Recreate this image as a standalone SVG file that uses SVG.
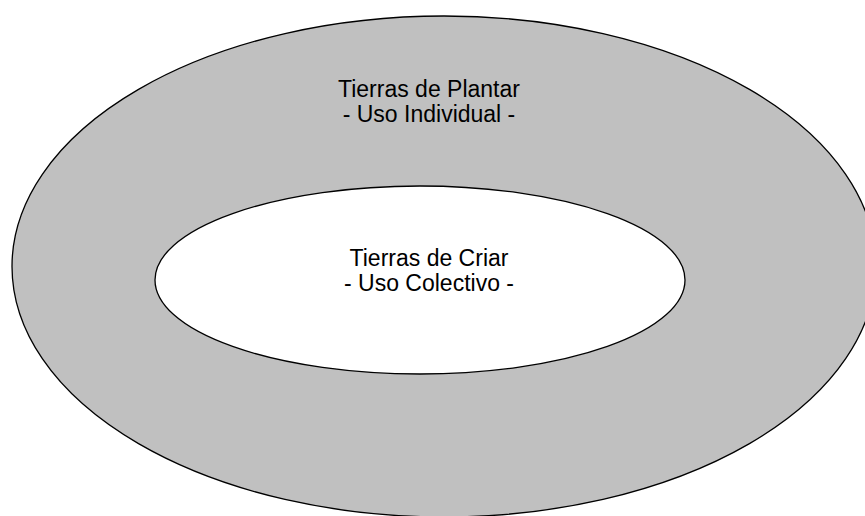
<svg xmlns="http://www.w3.org/2000/svg" width="865" height="516" viewBox="0 0 865 516">
<style>
.shape{stroke:#000;stroke-width:1.3}
.lbl{font-family:"Liberation Sans",Arial,sans-serif;font-size:23px;fill:#000;text-anchor:middle}
</style>
<rect width="865" height="516" fill="#fff"/>
<g id="outer">
<ellipse class="shape" cx="444" cy="266.5" rx="432" ry="250.5" fill="#c0c0c0"/>
<text class="lbl" x="429" y="97">Tierras de Plantar</text>
<text class="lbl" x="429" y="122">- Uso Individual -</text>
</g>
<g id="inner">
<ellipse class="shape" cx="420" cy="280" rx="265" ry="94" fill="#fff"/>
<text class="lbl" x="429" y="266">Tierras de Criar</text>
<text class="lbl" x="429" y="291">- Uso Colectivo -</text>
</g>
<g id="connectors"></g>
</svg>
